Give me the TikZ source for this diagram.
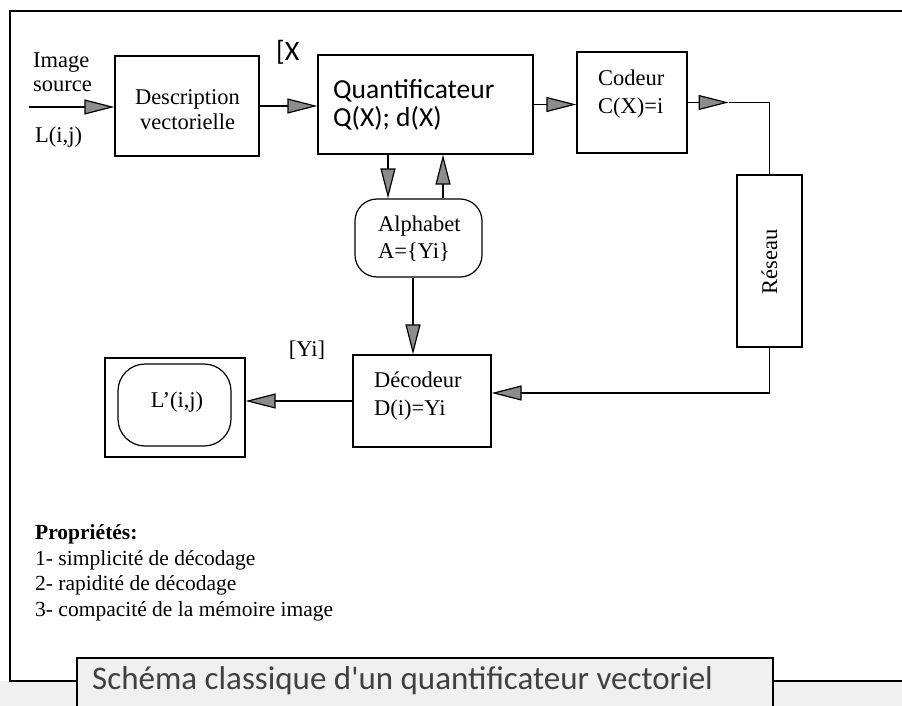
\documentclass[tikz,border=0pt]{standalone}
\usepackage{fontspec}
\setmainfont{Liberation Serif}
\newfontfamily\gillfont{Carlito}
\usetikzlibrary{arrows.meta}
\begin{document}
\begin{tikzpicture}[x=1pt,y=-1pt,
  bx/.style={draw, line width=1.2pt, inner sep=0pt},
  rbx/.style={draw, line width=1.2pt, inner sep=0pt, rounded corners=22pt},
  ser/.style={inner sep=0pt, font=\fontsize{22.5}{27}\selectfont},
  sans/.style={inner sep=0pt, font=\gillfont\fontsize{27.5}{28}\selectfont},
  arr/.style={line width=1.2pt, -{Triangle[length=30pt,width=15pt,fill=black!45]}},
  ln/.style={line width=1.2pt}]
\useasboundingbox (0,0) rectangle (902,706);
% scan background of the caption strip
\fill[black!6] (0,681) rectangle (902,706);
\fill[black!6] (77,658) rectangle (773,706);
% outer frame
\draw[ln] (77,681) -- (10,681) -- (10,11) -- (902,11);
\draw[ln] (773,681) -- (902,681);
\draw[ln] (77,706) -- (77,658) -- (773,658) -- (773,706);

% boxes
\node[bx, minimum width=144pt, minimum height=100pt] (desc) at (187,106) {};
\node[bx, minimum width=215pt, minimum height=99pt] (quant) at (425.5,104.5) {};
\node[bx, minimum width=110pt, minimum height=101pt] (codeur) at (632,102.5) {};
\node[bx, minimum width=65pt, minimum height=172pt] (reseau) at (769.5,261) {};
\node[rbx, minimum width=127pt, minimum height=78pt] (alpha) at (418.5,238) {};
\node[bx, minimum width=138pt, minimum height=92pt] (decod) at (422,401) {};
\node[bx, minimum width=140pt, minimum height=99pt] (lout) at (175,407.5) {};
\node[bx, minimum width=113pt, minimum height=82pt, rounded corners=27pt] (lin) at (174.5,405) {};

% texts
\node[ser, anchor=west, align=left, font=\fontsize{22.5}{24}\selectfont] (imgsrc) at (33,72) {Image\\source};
\node[ser, anchor=west] (lij) at (35,137) {L(i,j)};
\node[ser, align=center, font=\fontsize{22.5}{25}\selectfont] (desctxt) at (187.5,109.5) {Description\\vectorielle};
\node[sans, anchor=west, font=\gillfont\fontsize{28}{30}\selectfont] (xlbl) at (276,52) {[X};
\node[sans, anchor=west, align=left] (quanttxt) at (333,105) {Quantificateur\\Q(X); d(X)};
\node[ser, anchor=west, align=left, font=\fontsize{22.5}{28}\selectfont] (codtxt) at (598,94) {Codeur\\C(X)=i};
\node[ser, rotate=90] (restxt) at (769.5,262) {Réseau};
\node[ser, anchor=west, align=left] (alphatxt) at (378,238.5) {Alphabet\\A=\{Yi\}};
\node[ser] (yilbl) at (307,350) {[Yi]};
\node[ser, anchor=west, align=left, font=\fontsize{22.5}{28}\selectfont] (dectxt) at (374,396) {Décodeur\\D(i)=Yi};
\node[ser] (lptxt) at (177,402) {L'(i,j)};
\node[ser, anchor=west, align=left, font=\fontsize{21.5}{25.5}\selectfont] (props) at (35,573)
  {\textbf{Propriétés:}\\1- simplicité de décodage\\2- rapidité de décodage\\3- compacité de la mémoire image};
\node[inner sep=0pt, anchor=west, text=black!75, font=\gillfont\fontsize{33}{34}\selectfont] (cap) at (92,681)
  {Schéma classique d'un quantificateur vectoriel};

% connectors
\coordinate (in) at (29,107);
\draw[arr] (in) -- (in -| desc.west);
\draw[arr] (desc.east) -- (desc.east -| quant.west);
\draw[arr] (quant.east) -- (quant.east -| codeur.west);
\draw[arr] (codeur.east) -- ++(41,0) coordinate (cmid);
\draw[ln] (cmid) -| (reseau.north);
\draw[arr] (reseau.south) |- ([yshift=8pt]decod.east);
\coordinate (dn) at (388,0);
\coordinate (up) at (443,0);
\coordinate (dd) at (413,0);
\draw[arr] (quant.south -| dn) -- (alpha.north -| dn);
\draw[arr] (alpha.north -| up) -- (quant.south -| up);
\draw[arr] (alpha.south -| dd) -- (decod.north -| dd);
\draw[arr] (decod.west) -- (decod.west -| lout.east);
\end{tikzpicture}
\end{document}
